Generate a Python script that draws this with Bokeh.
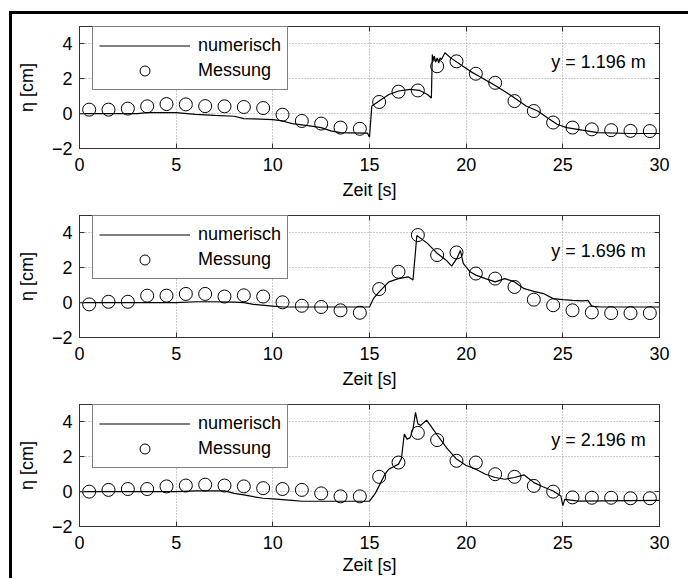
from bokeh.plotting import figure
from bokeh.models import Range1d, FixedTicker, LinearAxis, Legend, LegendItem, Label
from bokeh.layouts import column
from bokeh.embed import file_html
from bokeh.resources import INLINE

# ---------------- data ----------------
x_ticks = [0, 5, 10, 15, 20, 25, 30]
y_ticks = [-2, 0, 2, 4]

t_mess = [0.5, 1.5, 2.5, 3.5, 4.5, 5.5, 6.5, 7.5, 8.5, 9.5,
          10.5, 11.5, 12.5, 13.5, 14.5, 15.5, 16.5, 17.5, 18.5, 19.5,
          20.5, 21.5, 22.5, 23.5, 24.5, 25.5, 26.5, 27.5, 28.5, 29.5]

mess_1 = [0.23, 0.23, 0.29, 0.42, 0.55, 0.53, 0.43, 0.42, 0.38, 0.32,
          -0.06, -0.42, -0.57, -0.8, -0.87, 0.67, 1.26, 1.33, 2.72, 3.0,
          2.29, 1.77, 0.72, 0.15, -0.51, -0.8, -0.9, -0.95, -0.99, -1.0]
mess_2 = [-0.1, 0.05, 0.05, 0.4, 0.4, 0.5, 0.5, 0.35, 0.42, 0.35,
          0.02, -0.18, -0.25, -0.44, -0.58, 0.78, 1.77, 3.88, 2.73, 2.88,
          1.67, 1.38, 0.9, 0.17, -0.15, -0.44, -0.56, -0.6, -0.6, -0.6]
mess_3 = [0.0, 0.1, 0.15, 0.15, 0.3, 0.35, 0.4, 0.35, 0.3, 0.2,
          0.15, 0.1, -0.1, -0.27, -0.27, 0.85, 1.67, 3.37, 2.96, 1.77,
          1.67, 1.0, 0.85, 0.33, 0.0, -0.33, -0.35, -0.35, -0.38, -0.38]

t_num_1 = [0, 3, 3.5, 5, 6, 7, 8, 8.5, 9, 10, 10.5, 11, 12, 12.5, 13, 13.5, 14,
           14.9, 15.0, 15.12, 15.5, 16, 16.5, 17.1, 17.6, 18.0, 18.2, 18.25, 18.3,
           18.35, 18.42, 18.5, 18.58, 18.65, 18.72, 18.9, 19.2, 19.7, 20.2, 20.8,
           21.4, 22.1, 22.6, 23.1, 23.7, 24.2, 24.7, 25.2, 26.0, 26.8, 28.5, 30]
num_1 = [0, 0, 0.06, 0.06, -0.04, -0.1, -0.15, -0.29, -0.3, -0.34, -0.42, -0.57,
         -0.72, -0.8, -0.99, -1.09, -1.1, -1.12, -1.35, 0.44, 0.72, 1.1, 1.3, 1.39,
         1.33, 1.1, 0.9, 3.39, 3.05, 3.3, 2.95, 3.2, 2.9, 3.2, 3.1, 3.49, 3.2, 2.82,
         2.44, 2.06, 1.68, 1.2, 0.82, 0.44, 0.15, -0.23, -0.61, -0.8, -0.95, -1.09,
         -1.14, -1.14]

t_num_2 = [0, 5, 6, 7, 8, 8.5, 9, 10, 10.5, 15, 15.2, 15.5, 16, 16.5, 17, 17.25,
           17.45, 18, 18.5, 19, 19.25, 19.55, 19.7, 19.85, 20.2, 20.5, 21, 21.5,
           22, 22.5, 23, 23.5, 24, 24.5, 25, 25.5, 26, 26.3, 26.5, 27, 30]
num_2 = [0, 0, 0.05, 0.05, 0.03, 0, -0.1, -0.2, -0.25, -0.25, 0.23, 0.62, 1.19,
         1.38, 1.48, 1.3, 3.85, 3.4, 2.83, 2.4, 2.1, 2.6, 3.0, 2.25, 1.77, 1.58,
         1.38, 1.19, 1.38, 1.19, 0.8, 0.65, 0.52, 0.23, 0.17, 0.13, 0.1, 0.13,
         -0.21, -0.25, -0.25]

t_num_3 = [0, 5, 6, 7.5, 8, 8.5, 9, 9.5, 10, 11, 11.5, 15, 15.3, 15.5, 15.8, 16,
           16.5, 16.65, 16.8, 16.95, 17.1, 17.25, 17.38, 17.5, 17.65, 17.95, 18.15,
           18.5, 19.0, 19.5, 20, 20.5, 21, 21.5, 22, 22.5, 23, 23.5, 24, 24.5, 24.9,
           25.0, 25.1, 25.8, 30]
num_3 = [0, 0, 0.04, 0.04, -0.1, -0.19, -0.29, -0.38, -0.42, -0.5, -0.55, -0.55,
         -0.1, 0.33, 1.0, 1.29, 1.58, 1.9, 3.3, 3.0, 3.1, 3.6, 4.55, 3.9, 3.8, 4.1,
         3.8, 3.25, 2.5, 1.87, 1.5, 1.29, 1.0, 0.81, 0.71, 0.81, 0.96, 0.52, 0.27,
         0.04, -0.25, -0.8, -0.44, -0.54, -0.5]

labels = ["y = 1.196 m", "y = 1.696 m", "y = 2.196 m"]

FONT = "Liberation Sans"
FS = "18px"
FRAME = "#333333"


def make_panel(t_num, num, mess, label, bottom, tick_sd, lab_sd):
    p = figure(width=676, height=12 + 122 + bottom,
               x_range=Range1d(0, 30), y_range=Range1d(-2, 5),
               output_backend="svg", toolbar_location=None,
               min_border_left=67, min_border_right=29,
               min_border_top=12, min_border_bottom=bottom)
    p.background_fill_color = "white"
    p.border_fill_color = "white"
    p.outline_line_color = FRAME
    p.outline_line_width = 1

    for ax, tks in ((p.xaxis[0], x_ticks), (p.yaxis[0], y_ticks)):
        ax.ticker = FixedTicker(ticks=tks)
        ax.major_label_text_font = FONT
        ax.major_label_text_font_size = FS
        ax.major_label_text_color = "black"
        ax.major_tick_in = 5
        ax.major_tick_out = 0
        ax.minor_tick_line_color = None
        ax.axis_line_color = FRAME
        ax.major_tick_line_color = FRAME
        ax.axis_label_text_font = FONT
        ax.axis_label_text_font_size = FS
        ax.axis_label_text_font_style = "normal"
        ax.axis_label_text_color = "black"

    p.xaxis.axis_label = "Zeit [s]"
    p.xaxis.major_label_standoff = tick_sd
    p.xaxis.axis_label_standoff = lab_sd
    p.yaxis.axis_label = "η [cm]"
    p.yaxis.major_label_standoff = 7
    p.yaxis.axis_label_standoff = 12

    # box ticks on right and top
    ra = LinearAxis(ticker=FixedTicker(ticks=y_ticks), major_label_text_font_size="0px",
                    major_label_standoff=0, major_tick_in=5, major_tick_out=0,
                    minor_tick_line_color=None, axis_line_color=FRAME,
                    major_tick_line_color=FRAME)
    ta = LinearAxis(ticker=FixedTicker(ticks=x_ticks), major_label_text_font_size="0px",
                    major_label_standoff=0, major_tick_in=5, major_tick_out=0,
                    minor_tick_line_color=None, axis_line_color=FRAME,
                    major_tick_line_color=FRAME)
    p.add_layout(ra, "right")
    p.add_layout(ta, "above")

    for g in (p.xgrid[0], p.ygrid[0]):
        g.grid_line_color = "#999999"
        g.grid_line_dash = "1 2"
        g.grid_line_width = 1

    r_line = p.line(t_num, num, line_color="black", line_width=1.2)
    r_circ = p.scatter(t_mess, mess, marker="circle", size=13, fill_color=None,
                       line_color="black", line_width=1)

    leg = Legend(items=[LegendItem(label="numerisch", renderers=[r_line]),
                        LegendItem(label="Messung", renderers=[r_circ])],
                 location=(13, 58), margin=0, padding=6, spacing=-2,
                 glyph_width=91, glyph_height=25, label_height=25,
                 label_standoff=8, label_text_font=FONT, label_text_font_size=FS,
                 label_text_color="black",
                 border_line_color="black", border_line_width=1,
                 background_fill_color="white", background_fill_alpha=1)
    p.add_layout(leg)

    p.add_layout(Label(x=24.4, y=2.95, text=label, text_font=FONT,
                       text_font_size=FS, text_baseline="middle",
                       text_color="black"))
    return p


p1 = make_panel(t_num_1, num_1, mess_1, labels[0], 55, 9, 6)
p2 = make_panel(t_num_2, num_2, mess_2, labels[1], 55, 9, 6)
p3 = make_panel(t_num_3, num_3, mess_3, labels[2], 52, 9, 3)

layout = column(p1, p2, p3, margin=(11, 0, 0, 9),
                styles={"border-left": "3px solid black", "border-top": "3px solid black"})

open("out.html", "w").write(file_html(layout, INLINE))
